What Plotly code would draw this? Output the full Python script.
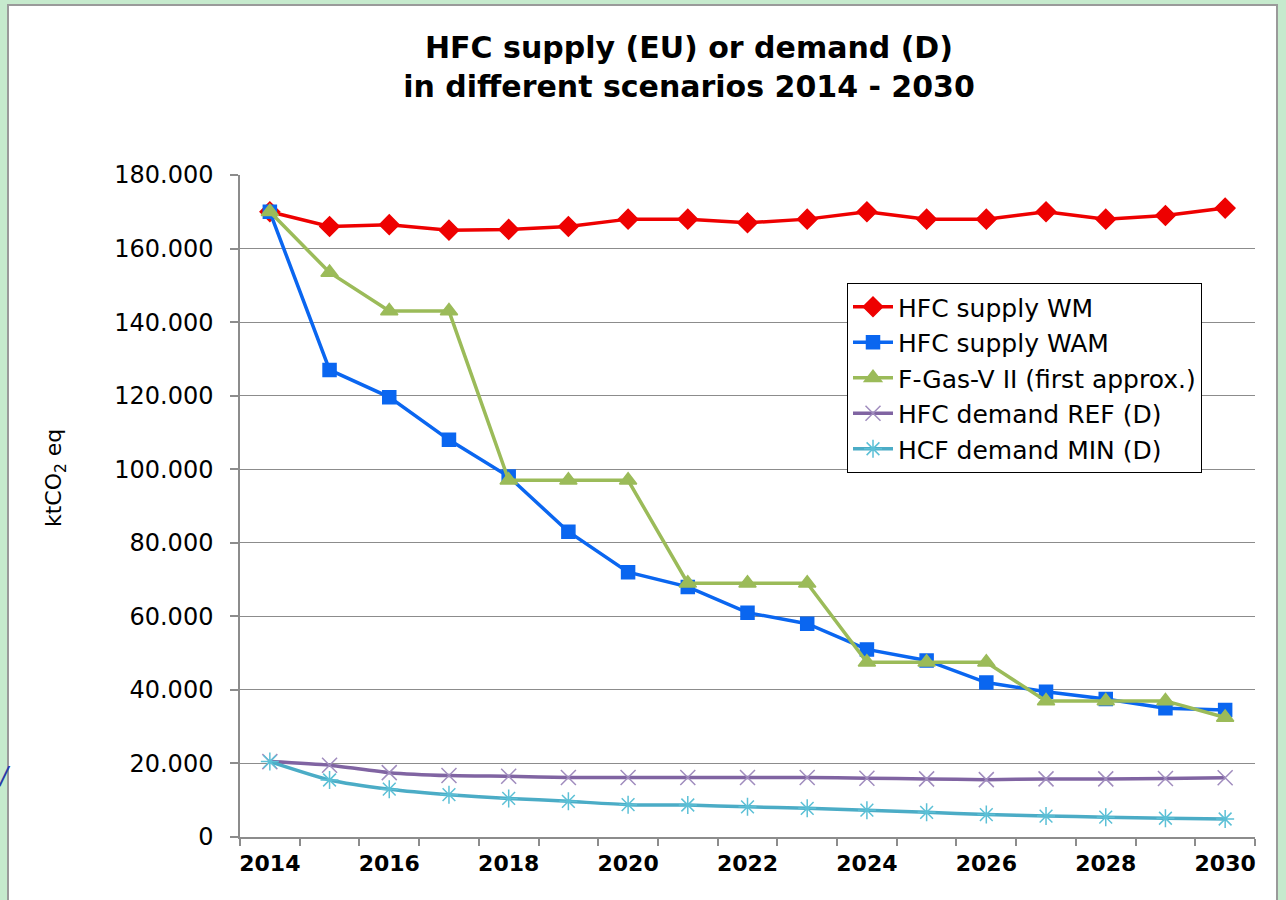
import plotly.graph_objects as go

years = list(range(2014, 2031))
x_labels = [str(y) for y in range(2014, 2031, 2)]
y_ticks = list(range(0, 180001, 20000))

hfc_supply_wm = [170000, 166000, 166500, 165000, 165200, 166000, 168000, 168000, 167000,
                 168000, 170000, 168000, 168000, 170000, 168000, 169000, 171000]
hfc_supply_wam = [170000, 127000, 119600, 108000, 98000, 83000, 72000, 68000, 61000,
                  58000, 51000, 48000, 42000, 39500, 37500, 35000, 34500]
fgas_v2 = [170000, 153500, 143000, 143000, 97000, 97000, 97000, 69000, 69000,
           69000, 47500, 47500, 47500, 37000, 37000, 37000, 32500]
demand_ref = [20500, 19500, 17500, 16700, 16500, 16200, 16200, 16200, 16200,
              16200, 16000, 15800, 15600, 15800, 15800, 15900, 16100]
demand_min = [20500, 15500, 13000, 11500, 10500, 9700, 8800, 8700, 8200,
              7800, 7300, 6700, 6100, 5700, 5400, 5100, 4900]

series = [
    ("HFC supply WM", hfc_supply_wm, "#ee0000", "#ee0000", "diamond", 15, "linear"),
    ("HFC supply WAM", hfc_supply_wam, "#0a66f0", "#0a66f0", "square", 13, "linear"),
    ("F-Gas-V II (first approx.)", fgas_v2, "#9bbb59", "#9bbb59", "triangle-up", 15, "linear"),
    ("HFC demand REF (D)", demand_ref, "#8064a2", "#a08cbe", "x-thin-open", 15, "spline"),
    ("HCF demand MIN (D)", demand_min, "#4bacc6", "#5cc0d6", "asterisk-open", 15, "spline"),
]

FONT = "DejaVu Sans, Arial, sans-serif"
GRID = "#8c8c8c"

fig = go.Figure()
for i, (name, vals, lc, mc, sym, size, shape) in enumerate(series):
    fig.add_trace(go.Scatter(
        x=years, y=vals, name=name, mode="lines+markers",
        legendgroup=f"g{i}",
        line=dict(color=lc, width=3.5, shape=shape, smoothing=0.6),
        marker=dict(symbol=sym, size=size, color=mc,
                    line=dict(color=mc, width=1.5)),
    ))

# white chart box on the green slide background
L, R, T, B = 240, 31, 175, 63
W, H = 1286, 900
pw, ph = W - L - R, H - T - B
def px(x):
    return (x - L) / pw
def py(y):
    return (H - B - y) / ph

fig.add_shape(type="rect", xref="paper", yref="paper", layer="below",
              x0=px(8), x1=px(1277), y0=py(905), y1=py(5),
              fillcolor="white", line=dict(color="#9a9a9a", width=2))

fig.add_annotation(xref="paper", yref="paper", x=px(55), y=py(478),
                   xanchor="center", yanchor="middle",
                   text="ktCO<sub>2</sub> eq", textangle=-90, showarrow=False,
                   font=dict(family=FONT, size=22, color="black"))
fig.add_annotation(xref="paper", yref="paper", x=px(-4), y=py(776),
                   xanchor="left", yanchor="middle",
                   text="<i>/</i>", showarrow=False,
                   font=dict(family=FONT, size=24, color="#2a3aa8"))

fig.update_layout(
    width=W, height=H,
    margin=dict(l=L, r=R, t=T, b=B),
    paper_bgcolor="#c6eacd",
    plot_bgcolor="white",
    separators=",.",
    title=dict(text="<b>HFC supply (EU) or demand (D)<br>in different scenarios 2014 - 2030</b>",
               x=689 / W, xanchor="center", y=1 - 58 / H, yanchor="middle",
               font=dict(family=FONT, size=30, color="black")),
    font=dict(family=FONT, color="black"),
    legend=dict(x=px(847), y=py(283), xanchor="left", yanchor="top",
                bgcolor="white", bordercolor="black", borderwidth=1,
                font=dict(family=FONT, size=25, color="black"),
                tracegroupgap=0, itemwidth=40),
    showlegend=True,
)

fig.update_xaxes(
    range=[2013.5, 2030.5], tickmode="array", tickvals=[int(s) for s in x_labels],
    ticktext=x_labels, ticks="", showgrid=False, zeroline=False,
    showline=True, linecolor=GRID, linewidth=1.5, ticklabelstandoff=6,
    tickfont=dict(family=FONT, size=22, color="black", weight="bold"),
    minor=dict(tickmode="array", tickvals=[2013.5 + i for i in range(18)],
               ticks="outside", ticklen=7, tickcolor=GRID, tickwidth=1.5, showgrid=False),
)
fig.update_yaxes(
    range=[0, 180000], tickmode="array", tickvals=y_ticks, tickformat=",d",
    ticks="outside", ticklen=8, tickcolor=GRID, tickwidth=1.5, ticklabelstandoff=12,
    showgrid=True, gridcolor=GRID, gridwidth=1.2, zeroline=False,
    showline=True, linecolor=GRID, linewidth=1.5,
    tickfont=dict(family=FONT, size=24, color="black"),
)

fig.write_html("out.html", config={"displayModeBar": False},
               post_script="document.body.style.margin='0px';document.body.style.padding='0px';")
